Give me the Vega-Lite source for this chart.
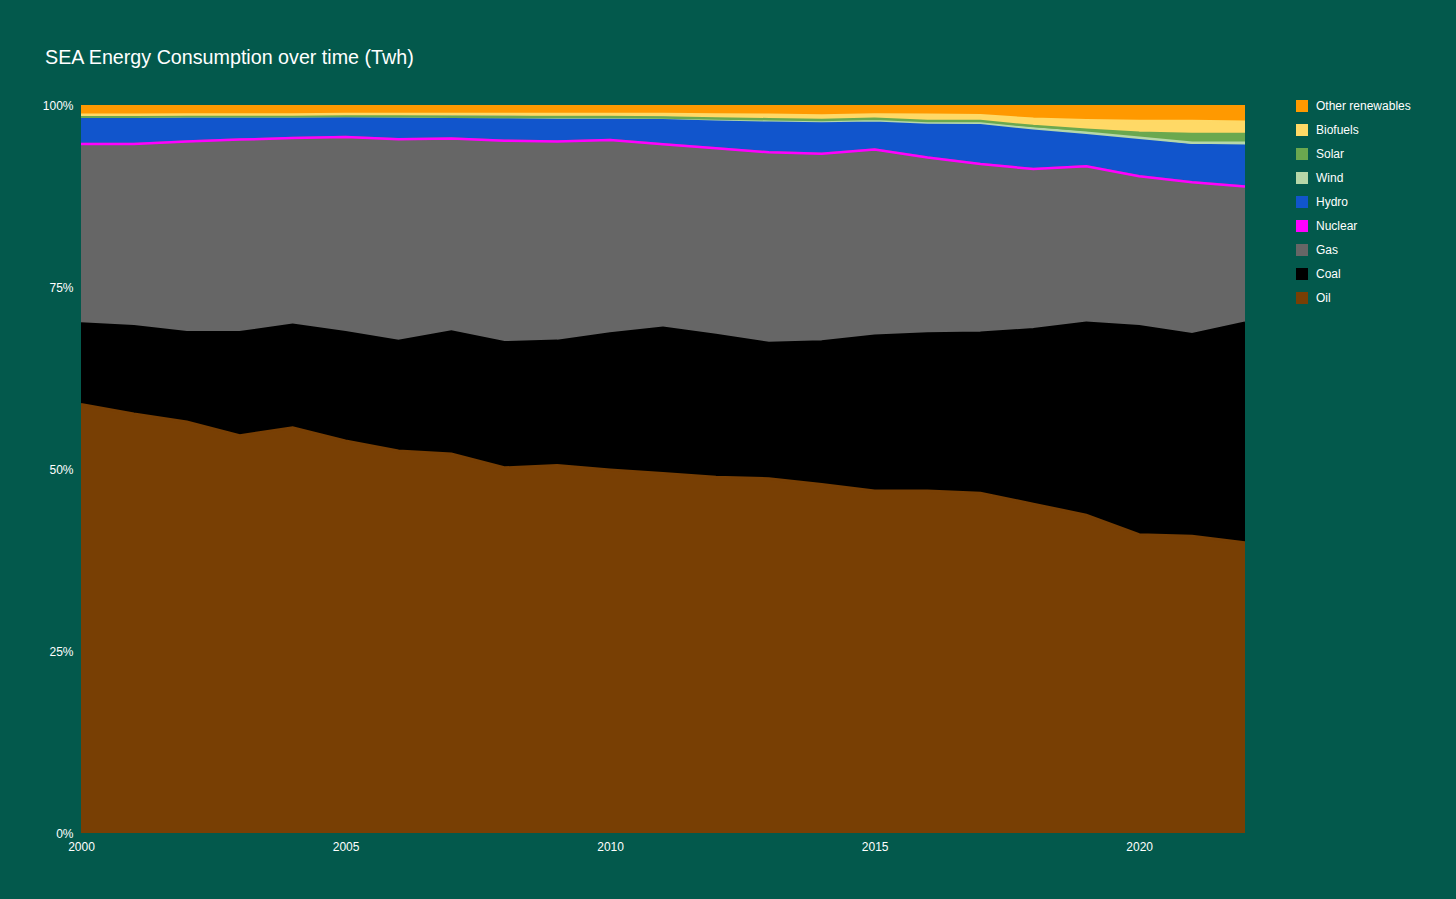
{
  "$schema": "https://vega.github.io/schema/vega-lite/v6.json",
  "description": "Stacked 100% area: SEA energy consumption by source, 2000-2022",
  "width": 1164,
  "height": 728,
  "autosize": "none",
  "padding": {"left": 81, "top": 105, "right": 211, "bottom": 66},
  "background": "#03594c",
  "title": {
    "text": "SEA Energy Consumption over time (Twh)",
    "anchor": "start",
    "frame": "group",
    "dx": -36,
    "offset": 15,
    "baseline": "alphabetic",
    "font": "Liberation Sans",
    "fontSize": 19.7,
    "fontWeight": "normal",
    "color": "#ffffff"
  },
  "config": {
    "view": {"stroke": null},
    "axis": {
      "labelFont": "Liberation Sans",
      "labelFontSize": 12,
      "labelColor": "#ffffff",
      "grid": false,
      "ticks": false,
      "title": null
    },
    "legend": {
      "labelFont": "Liberation Sans",
      "labelFontSize": 12,
      "labelColor": "#ffffff"
    }
  },
  "data": {
    "values": [
      {"year": 2000, "source": "Oil", "share": 58.9}, {"year": 2000, "source": "Coal", "share": 11.1}, {"year": 2000, "source": "Gas", "share": 24.65}, {"year": 2000, "source": "Nuclear", "share": 0}, {"year": 2000, "source": "Hydro", "share": 3.75}, {"year": 2000, "source": "Wind", "share": 0}, {"year": 2000, "source": "Solar", "share": 0}, {"year": 2000, "source": "Biofuels", "share": 0.25}, {"year": 2000, "source": "Other renewables", "share": 1.35},
      {"year": 2001, "source": "Oil", "share": 57.6}, {"year": 2001, "source": "Coal", "share": 12.0}, {"year": 2001, "source": "Gas", "share": 25.05}, {"year": 2001, "source": "Nuclear", "share": 0}, {"year": 2001, "source": "Hydro", "share": 3.75}, {"year": 2001, "source": "Wind", "share": 0}, {"year": 2001, "source": "Solar", "share": 0}, {"year": 2001, "source": "Biofuels", "share": 0.25}, {"year": 2001, "source": "Other renewables", "share": 1.35},
      {"year": 2002, "source": "Oil", "share": 56.5}, {"year": 2002, "source": "Coal", "share": 12.3}, {"year": 2002, "source": "Gas", "share": 26.2}, {"year": 2002, "source": "Nuclear", "share": 0}, {"year": 2002, "source": "Hydro", "share": 3.45}, {"year": 2002, "source": "Wind", "share": 0}, {"year": 2002, "source": "Solar", "share": 0}, {"year": 2002, "source": "Biofuels", "share": 0.25}, {"year": 2002, "source": "Other renewables", "share": 1.3},
      {"year": 2003, "source": "Oil", "share": 54.6}, {"year": 2003, "source": "Coal", "share": 14.2}, {"year": 2003, "source": "Gas", "share": 26.45}, {"year": 2003, "source": "Nuclear", "share": 0}, {"year": 2003, "source": "Hydro", "share": 3.2}, {"year": 2003, "source": "Wind", "share": 0}, {"year": 2003, "source": "Solar", "share": 0}, {"year": 2003, "source": "Biofuels", "share": 0.25}, {"year": 2003, "source": "Other renewables", "share": 1.3},
      {"year": 2004, "source": "Oil", "share": 55.7}, {"year": 2004, "source": "Coal", "share": 14.1}, {"year": 2004, "source": "Gas", "share": 25.65}, {"year": 2004, "source": "Nuclear", "share": 0}, {"year": 2004, "source": "Hydro", "share": 3.0}, {"year": 2004, "source": "Wind", "share": 0}, {"year": 2004, "source": "Solar", "share": 0}, {"year": 2004, "source": "Biofuels", "share": 0.25}, {"year": 2004, "source": "Other renewables", "share": 1.3},
      {"year": 2005, "source": "Oil", "share": 53.9}, {"year": 2005, "source": "Coal", "share": 14.9}, {"year": 2005, "source": "Gas", "share": 26.8}, {"year": 2005, "source": "Nuclear", "share": 0}, {"year": 2005, "source": "Hydro", "share": 2.9}, {"year": 2005, "source": "Wind", "share": 0}, {"year": 2005, "source": "Solar", "share": 0}, {"year": 2005, "source": "Biofuels", "share": 0.25}, {"year": 2005, "source": "Other renewables", "share": 1.25},
      {"year": 2006, "source": "Oil", "share": 52.5}, {"year": 2006, "source": "Coal", "share": 15.1}, {"year": 2006, "source": "Gas", "share": 27.7}, {"year": 2006, "source": "Nuclear", "share": 0}, {"year": 2006, "source": "Hydro", "share": 3.15}, {"year": 2006, "source": "Wind", "share": 0}, {"year": 2006, "source": "Solar", "share": 0}, {"year": 2006, "source": "Biofuels", "share": 0.3}, {"year": 2006, "source": "Other renewables", "share": 1.25},
      {"year": 2007, "source": "Oil", "share": 52.1}, {"year": 2007, "source": "Coal", "share": 16.8}, {"year": 2007, "source": "Gas", "share": 26.5}, {"year": 2007, "source": "Nuclear", "share": 0}, {"year": 2007, "source": "Hydro", "share": 3.0}, {"year": 2007, "source": "Wind", "share": 0}, {"year": 2007, "source": "Solar", "share": 0}, {"year": 2007, "source": "Biofuels", "share": 0.35}, {"year": 2007, "source": "Other renewables", "share": 1.25},
      {"year": 2008, "source": "Oil", "share": 50.2}, {"year": 2008, "source": "Coal", "share": 17.2}, {"year": 2008, "source": "Gas", "share": 27.7}, {"year": 2008, "source": "Nuclear", "share": 0}, {"year": 2008, "source": "Hydro", "share": 3.25}, {"year": 2008, "source": "Wind", "share": 0}, {"year": 2008, "source": "Solar", "share": 0}, {"year": 2008, "source": "Biofuels", "share": 0.4}, {"year": 2008, "source": "Other renewables", "share": 1.25},
      {"year": 2009, "source": "Oil", "share": 50.5}, {"year": 2009, "source": "Coal", "share": 17.1}, {"year": 2009, "source": "Gas", "share": 27.4}, {"year": 2009, "source": "Nuclear", "share": 0}, {"year": 2009, "source": "Hydro", "share": 3.3}, {"year": 2009, "source": "Wind", "share": 0}, {"year": 2009, "source": "Solar", "share": 0.05}, {"year": 2009, "source": "Biofuels", "share": 0.4}, {"year": 2009, "source": "Other renewables", "share": 1.25},
      {"year": 2010, "source": "Oil", "share": 49.9}, {"year": 2010, "source": "Coal", "share": 18.7}, {"year": 2010, "source": "Gas", "share": 26.6}, {"year": 2010, "source": "Nuclear", "share": 0}, {"year": 2010, "source": "Hydro", "share": 3.05}, {"year": 2010, "source": "Wind", "share": 0.05}, {"year": 2010, "source": "Solar", "share": 0.05}, {"year": 2010, "source": "Biofuels", "share": 0.4}, {"year": 2010, "source": "Other renewables", "share": 1.25},
      {"year": 2011, "source": "Oil", "share": 49.4}, {"year": 2011, "source": "Coal", "share": 20.0}, {"year": 2011, "source": "Gas", "share": 25.2}, {"year": 2011, "source": "Nuclear", "share": 0}, {"year": 2011, "source": "Hydro", "share": 3.6}, {"year": 2011, "source": "Wind", "share": 0.05}, {"year": 2011, "source": "Solar", "share": 0.05}, {"year": 2011, "source": "Biofuels", "share": 0.45}, {"year": 2011, "source": "Other renewables", "share": 1.25},
      {"year": 2012, "source": "Oil", "share": 48.9}, {"year": 2012, "source": "Coal", "share": 19.5}, {"year": 2012, "source": "Gas", "share": 25.65}, {"year": 2012, "source": "Nuclear", "share": 0}, {"year": 2012, "source": "Hydro", "share": 3.95}, {"year": 2012, "source": "Wind", "share": 0.05}, {"year": 2012, "source": "Solar", "share": 0.1}, {"year": 2012, "source": "Biofuels", "share": 0.55}, {"year": 2012, "source": "Other renewables", "share": 1.3},
      {"year": 2013, "source": "Oil", "share": 48.7}, {"year": 2013, "source": "Coal", "share": 18.6}, {"year": 2013, "source": "Gas", "share": 26.2}, {"year": 2013, "source": "Nuclear", "share": 0}, {"year": 2013, "source": "Hydro", "share": 4.35}, {"year": 2013, "source": "Wind", "share": 0.05}, {"year": 2013, "source": "Solar", "share": 0.15}, {"year": 2013, "source": "Biofuels", "share": 0.6}, {"year": 2013, "source": "Other renewables", "share": 1.35},
      {"year": 2014, "source": "Oil", "share": 47.9}, {"year": 2014, "source": "Coal", "share": 19.6}, {"year": 2014, "source": "Gas", "share": 25.8}, {"year": 2014, "source": "Nuclear", "share": 0}, {"year": 2014, "source": "Hydro", "share": 4.4}, {"year": 2014, "source": "Wind", "share": 0.1}, {"year": 2014, "source": "Solar", "share": 0.15}, {"year": 2014, "source": "Biofuels", "share": 0.6}, {"year": 2014, "source": "Other renewables", "share": 1.45},
      {"year": 2015, "source": "Oil", "share": 47.0}, {"year": 2015, "source": "Coal", "share": 21.3}, {"year": 2015, "source": "Gas", "share": 25.6}, {"year": 2015, "source": "Nuclear", "share": 0}, {"year": 2015, "source": "Hydro", "share": 3.8}, {"year": 2015, "source": "Wind", "share": 0.2}, {"year": 2015, "source": "Solar", "share": 0.2}, {"year": 2015, "source": "Biofuels", "share": 0.6}, {"year": 2015, "source": "Other renewables", "share": 1.3},
      {"year": 2016, "source": "Oil", "share": 47.0}, {"year": 2016, "source": "Coal", "share": 21.6}, {"year": 2016, "source": "Gas", "share": 24.2}, {"year": 2016, "source": "Nuclear", "share": 0}, {"year": 2016, "source": "Hydro", "share": 4.6}, {"year": 2016, "source": "Wind", "share": 0.2}, {"year": 2016, "source": "Solar", "share": 0.2}, {"year": 2016, "source": "Biofuels", "share": 0.85}, {"year": 2016, "source": "Other renewables", "share": 1.35},
      {"year": 2017, "source": "Oil", "share": 46.7}, {"year": 2017, "source": "Coal", "share": 22.0}, {"year": 2017, "source": "Gas", "share": 23.2}, {"year": 2017, "source": "Nuclear", "share": 0}, {"year": 2017, "source": "Hydro", "share": 5.4}, {"year": 2017, "source": "Wind", "share": 0.25}, {"year": 2017, "source": "Solar", "share": 0.25}, {"year": 2017, "source": "Biofuels", "share": 0.8}, {"year": 2017, "source": "Other renewables", "share": 1.4},
      {"year": 2018, "source": "Oil", "share": 45.2}, {"year": 2018, "source": "Coal", "share": 24.0}, {"year": 2018, "source": "Gas", "share": 22.0}, {"year": 2018, "source": "Nuclear", "share": 0}, {"year": 2018, "source": "Hydro", "share": 5.4}, {"year": 2018, "source": "Wind", "share": 0.2}, {"year": 2018, "source": "Solar", "share": 0.3}, {"year": 2018, "source": "Biofuels", "share": 1.0}, {"year": 2018, "source": "Other renewables", "share": 1.9},
      {"year": 2019, "source": "Oil", "share": 43.7}, {"year": 2019, "source": "Coal", "share": 26.4}, {"year": 2019, "source": "Gas", "share": 21.5}, {"year": 2019, "source": "Nuclear", "share": 0}, {"year": 2019, "source": "Hydro", "share": 4.4}, {"year": 2019, "source": "Wind", "share": 0.2}, {"year": 2019, "source": "Solar", "share": 0.4}, {"year": 2019, "source": "Biofuels", "share": 1.3}, {"year": 2019, "source": "Other renewables", "share": 2.1},
      {"year": 2020, "source": "Oil", "share": 41.0}, {"year": 2020, "source": "Coal", "share": 28.6}, {"year": 2020, "source": "Gas", "share": 20.6}, {"year": 2020, "source": "Nuclear", "share": 0}, {"year": 2020, "source": "Hydro", "share": 5.1}, {"year": 2020, "source": "Wind", "share": 0.2}, {"year": 2020, "source": "Solar", "share": 0.7}, {"year": 2020, "source": "Biofuels", "share": 1.6}, {"year": 2020, "source": "Other renewables", "share": 2.2},
      {"year": 2021, "source": "Oil", "share": 40.8}, {"year": 2021, "source": "Coal", "share": 27.7}, {"year": 2021, "source": "Gas", "share": 20.9}, {"year": 2021, "source": "Nuclear", "share": 0}, {"year": 2021, "source": "Hydro", "share": 5.1}, {"year": 2021, "source": "Wind", "share": 0.3}, {"year": 2021, "source": "Solar", "share": 1.2}, {"year": 2021, "source": "Biofuels", "share": 1.8}, {"year": 2021, "source": "Other renewables", "share": 2.2},
      {"year": 2022, "source": "Oil", "share": 39.9}, {"year": 2022, "source": "Coal", "share": 30.2}, {"year": 2022, "source": "Gas", "share": 18.7}, {"year": 2022, "source": "Nuclear", "share": 0}, {"year": 2022, "source": "Hydro", "share": 5.6}, {"year": 2022, "source": "Wind", "share": 0.4}, {"year": 2022, "source": "Solar", "share": 1.2}, {"year": 2022, "source": "Biofuels", "share": 1.7}, {"year": 2022, "source": "Other renewables", "share": 2.3}
    ]
  },
  "transform": [
    {"calculate": "indexof(['Oil', 'Coal', 'Gas', 'Nuclear', 'Hydro', 'Wind', 'Solar', 'Biofuels', 'Other renewables'], datum.source)", "as": "stack_order"}
  ],
  "mark": {
    "type": "area",
    "opacity": 1,
    "clip": true,
    "line": {"strokeWidth": 2.5}
  },
  "encoding": {
    "x": {
      "field": "year",
      "type": "quantitative",
      "scale": {"domain": [2000, 2022], "nice": false, "zero": false},
      "axis": {
        "values": [2000, 2005, 2010, 2015, 2020],
        "format": "d",
        "labelPadding": 8,
        "labelFlush": false,
        "domain": false
      }
    },
    "y": {
      "field": "share",
      "type": "quantitative",
      "stack": "normalize",
      "axis": {
        "values": [0, 0.25, 0.5, 0.75, 1],
        "format": ".0%",
        "labelPadding": 8,
        "labelFlush": false,
        "domain": false
      }
    },
    "order": {"field": "stack_order", "type": "quantitative", "sort": "ascending"},
    "color": {
      "field": "source",
      "type": "nominal",
      "scale": {
        "domain": ["Other renewables", "Biofuels", "Solar", "Wind", "Hydro", "Nuclear", "Gas", "Coal", "Oil"],
        "range": ["#ff9900", "#ffd966", "#6aa84f", "#b6d7a8", "#1155cc", "#ff00ff", "#666666", "#000000", "#783f04"]
      },
      "legend": {
        "title": null,
        "orient": "none",
        "legendX": 1215,
        "legendY": -5,
        "symbolType": "square",
        "symbolSize": 144,
        "symbolStrokeWidth": 0,
        "symbolOpacity": 1,
        "rowPadding": 12,
        "labelOffset": 8
      }
    }
  }
}
